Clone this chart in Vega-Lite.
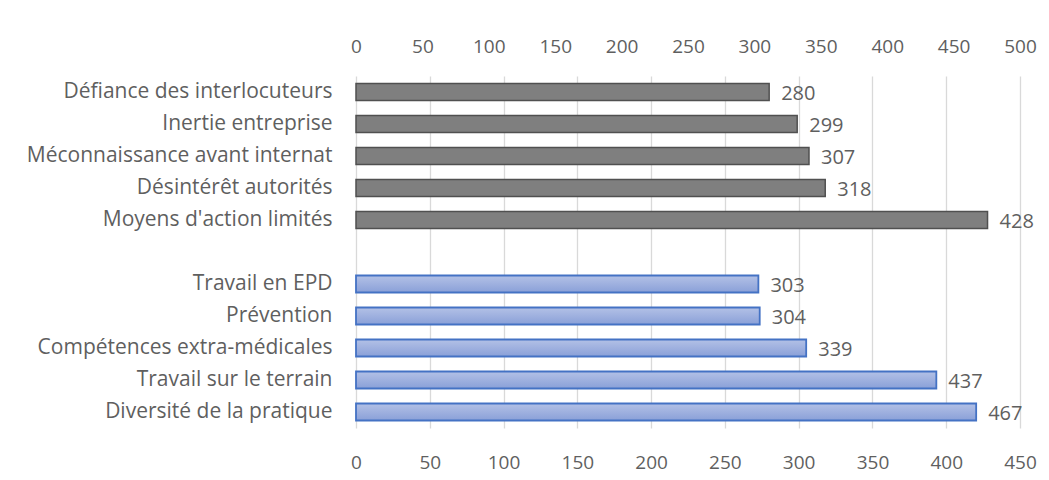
{
  "$schema": "https://vega.github.io/schema/vega-lite/v6.json",
  "autosize": {"type": "none"},
  "padding": {"left": 356, "top": 76, "right": 29, "bottom": 52},
  "width": 664,
  "height": 352,
  "background": "white",
  "config": {
    "view": {"stroke": null},
    "font": "Open Sans",
    "axis": {"labelFont": "Open Sans", "labelColor": "#5f5f5f", "labelFontSize": 19, "domain": false, "ticks": false, "title": null, "labelFlush": false, "labelLimit": 500, "labelOverlap": false}
  },
  "data": {
    "values": [
      {"label": "Défiance des interlocuteurs", "value": 280, "group": "grey"},
      {"label": "Inertie entreprise", "value": 299, "group": "grey"},
      {"label": "Méconnaissance avant internat", "value": 307, "group": "grey"},
      {"label": "Désintérêt autorités", "value": 318, "group": "grey"},
      {"label": "Moyens d'action limités", "value": 428, "group": "grey"},
      {"label": "Travail en EPD", "value": 303, "group": "blue"},
      {"label": "Prévention", "value": 304, "group": "blue"},
      {"label": "Compétences extra-médicales", "value": 339, "group": "blue"},
      {"label": "Travail sur le terrain", "value": 437, "group": "blue"},
      {"label": "Diversité de la pratique", "value": 467, "group": "blue"}
    ]
  },
  "encoding": {
    "y": {
      "field": "label",
      "type": "nominal",
      "scale": {
        "domain": ["Défiance des interlocuteurs", "Inertie entreprise", "Méconnaissance avant internat", "Désintérêt autorités", "Moyens d'action limités", " ", "Travail en EPD", "Prévention", "Compétences extra-médicales", "Travail sur le terrain", "Diversité de la pratique"],
        "paddingInner": 0.47,
        "paddingOuter": 0.235
      },
      "axis": {"labelPadding": 24, "grid": false, "labelFontSize": 21}
    }
  },
  "layer": [
    {
      "transform": [{"filter": "datum.group === 'grey'"}],
      "encoding": {
        "x": {
          "field": "value",
          "type": "quantitative",
          "scale": {"domain": [0, 450], "nice": false},
          "axis": {"orient": "bottom", "values": [0, 50, 100, 150, 200, 250, 300, 350, 400, 450], "grid": true, "gridColor": "#d9d9d9", "gridWidth": 1.3, "labelPadding": 25}
        }
      },
      "layer": [
        {"mark": {"type": "bar", "fill": "#7f7f7f", "stroke": "#505050", "strokeWidth": 1.5}},
        {"mark": {"type": "text", "align": "left", "baseline": "middle", "dx": 12, "dy": 2, "fontSize": 20, "fill": "#5f5f5f"}, "encoding": {"text": {"field": "value", "type": "quantitative"}}}
      ]
    },
    {
      "transform": [{"filter": "datum.group === 'blue'"}],
      "encoding": {
        "x": {
          "field": "value",
          "type": "quantitative",
          "scale": {"domain": [0, 500], "nice": false},
          "axis": {"orient": "top", "values": [0, 50, 100, 150, 200, 250, 300, 350, 400, 450, 500], "grid": false, "labelPadding": 20}
        }
      },
      "layer": [
        {"mark": {"type": "bar", "stroke": "#4472c4", "strokeWidth": 1.8, "fill": {"gradient": "linear", "x1": 0, "y1": 0, "x2": 0, "y2": 1, "stops": [{"offset": 0, "color": "#b3c1e6"}, {"offset": 1, "color": "#8aa0d8"}]}}},
        {"mark": {"type": "text", "align": "left", "baseline": "middle", "dx": 12, "dy": 2, "fontSize": 20, "fill": "#5f5f5f"}, "encoding": {"text": {"field": "value", "type": "quantitative"}}}
      ]
    }
  ],
  "resolve": {"scale": {"x": "independent"}, "axis": {"x": "independent"}}
}
